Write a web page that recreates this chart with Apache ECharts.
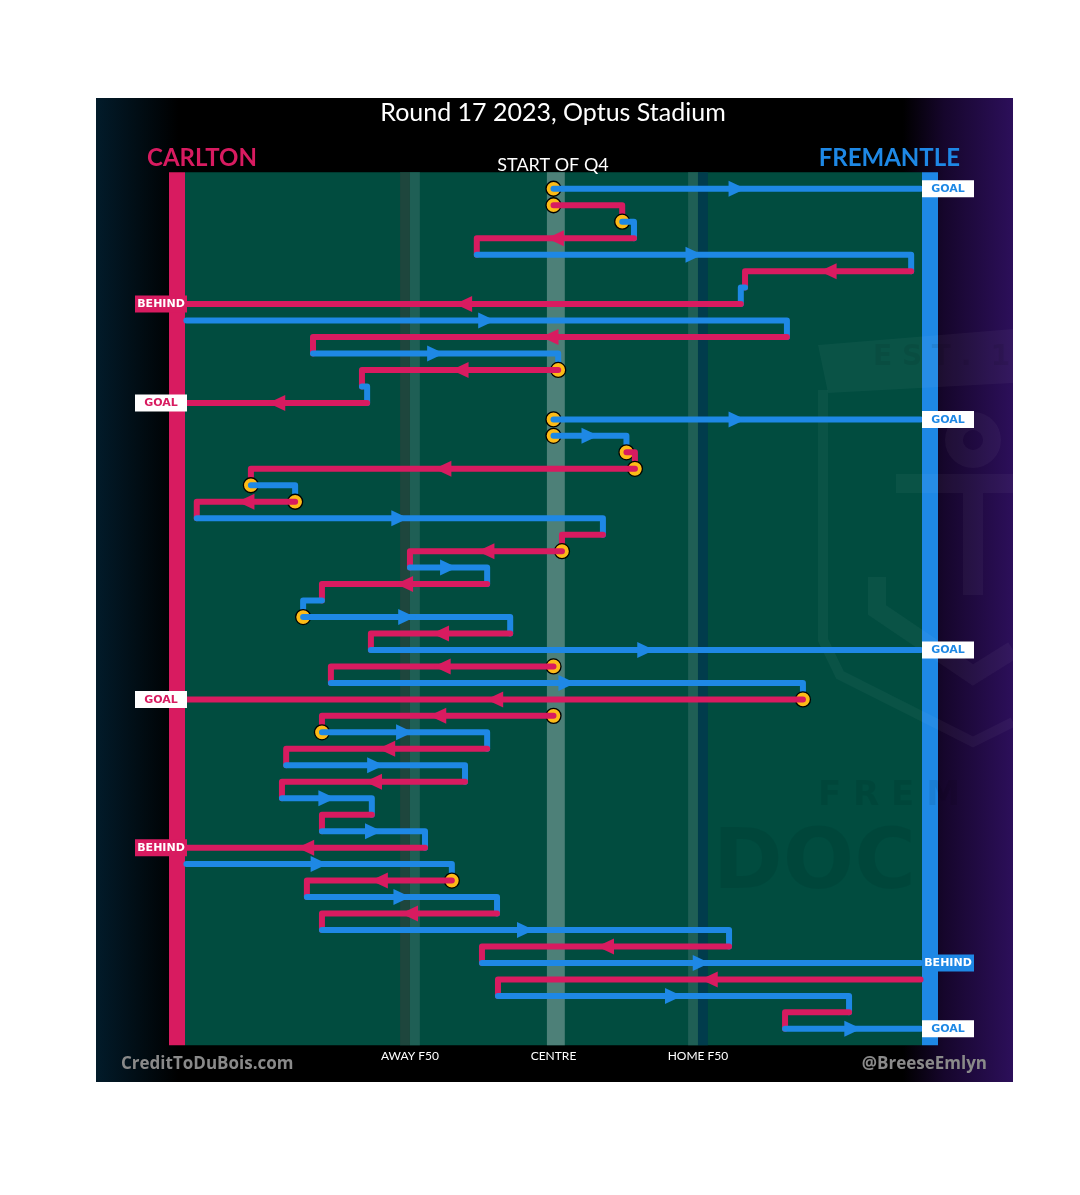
<!DOCTYPE html>
<html><head><meta charset="utf-8">
<script src="https://cdn.jsdelivr.net/npm/echarts@6/dist/echarts.min.js"></script>
<style>html,body{margin:0;padding:0;background:#fff;}#c{width:1080px;height:1195px;}</style>
</head><body><div id="c"></div>
<script>
// ---- DATA (x in ground units: 0 = Carlton goal, 160 = Fremantle goal; row = chain step) ----
const rowTeam = ['F','C','F','C','F','C','F','C','F','C','F','C','F','C','F','F','C','C','F','C','F','C','C','F','C','F','F','C','F','C','F','C','C','F','C','F','C','F','C','F','C','F','C','F','C','F','C','F','C','F','C','F'];
const rowStart = [80,80,94.6,97.1,63.7,156,120.7,119.8,2,129.6,28.9,81,39.3,40.4,80,80,95.5,97.3,15.7,25.1,4.2,90.5,81.8,49.5,65.9,30.8,26.8,70.8,41.2,80,32.7,133,80,30.8,65.9,23.2,61.2,22.3,41.4,30.8,52.7,2,58.4,27.6,68,30.8,117.3,64.8,158,68.2,142.8,129.2];
const rowEnd = [158,94.6,97.1,63.7,156,120.7,119.8,2,129.6,28.9,81,39.3,40.4,2,158,95.5,97.3,15.7,25.1,4.2,90.5,81.8,49.5,65.9,30.8,26.8,70.8,41.2,158,32.7,133,2,30.8,65.9,23.2,61.2,22.3,41.4,30.8,52.7,2,58.4,27.6,68,30.8,117.3,64.8,158,68.2,142.8,129.2,158];
const stoppageRows = [0,1,2,11,14,15,16,17,18,19,22,26,29,31,32,33,42];
const resultRows = [0,7,13,14,28,31,40,47,51];
const resultNames = ['GOAL','BEHIND','GOAL','GOAL','GOAL','GOAL','BEHIND','BEHIND','GOAL'];
const tickValues = [49.5, 80, 110.7];
const tickNames = ['AWAY F50','CENTRE','HOME F50'];
const teamNames = ['CARLTON','FREMANTLE'];

// ---- STYLE ----
const TEAM_COLOR = {C:'#D81B60', F:'#1E88E5'};
const ARROW_MIN = 15;
const N = rowTeam.length;
const chainData = rowTeam.map((t,i)=>[i, rowStart[i], rowEnd[i]]);

function renderField(params, api){
  const top = api.coord([0,-1])[1], bot = api.coord([0,52])[1];
  const band = (a,b,fill) => {
    const xa = api.coord([a,0])[0], xb = api.coord([b,0])[0];
    return {type:'rect', shape:{x:xa, y:top, width:xb-xa, height:bot-top}, style:{fill:fill}};
  };
  return {type:'group', children:[
    band(1.7,158.3,'#014c3f'),
    band(47.4,49.5,'#1e463d'),
    band(49.5,51.6,'#1f5f55'),
    band(78.6,82.4,'#4d8078'),
    band(108.6,110.7,'#1f5f55'),
    band(110.7,112.8,'#013c4c'),
    band(-1.7,1.7,TEAM_COLOR.C),
    band(158.3,161.7,TEAM_COLOR.F)
  ]};
}

function renderChain(params, api){
  const k = params.dataIndex;
  const i = api.value(0), s = api.value(1), e = api.value(2);
  const col = TEAM_COLOR[rowTeam[k]];
  const ri = resultRows.indexOf(k);
  const res = ri >= 0 ? resultNames[ri] : '';
  const p0 = api.coord([s,i]), p1 = api.coord([e,i]);
  const pts = [p0, p1];
  if(!res && k < N-1) pts.push(api.coord([e, i+1]));
  const ch = [];
  if(stoppageRows.indexOf(k) >= 0){
    ch.push({type:'circle', shape:{cx:p0[0], cy:p0[1], r:7.5}, style:{fill:'#FDBB17', stroke:'#000', lineWidth:1.3}});
  }
  ch.push({type:'polyline', shape:{points:pts}, style:{stroke:col, lineWidth:6, lineCap:'round', lineJoin:'round', fill:null}});
  if(Math.abs(e-s) > ARROW_MIN){
    const d = e > s ? 1 : -1;
    const mx = (p0[0]+p1[0])/2, y = p0[1];
    ch.push({type:'polygon', shape:{points:[[mx+d*8.5,y],[mx-d*8.5,y-8],[mx-d*8.5,y+8]]}, style:{fill:col}});
  }
  if(res){
    const left = e < 80;
    const gx = api.coord([left?0:160, i])[0];
    const x0 = left ? gx-42 : gx-8;
    const w = 52, isGoal = res === 'GOAL';
    ch.push({type:'rect', shape:{x:x0, y:p1[1]-8.5, width:w, height:17}, style:{fill:isGoal?'#ffffff':col}});
    ch.push({type:'text', style:{text:res, x:x0+w/2, y:p1[1]+0.5, fill:isGoal?col:'#ffffff', font:'bold 11px "DejaVu Sans"', align:'center', verticalAlign:'middle', textAlign:'center', textVerticalAlign:'middle'}});
  }
  return {type:'group', children:ch};
}

const WM = 'rgba(255,255,255,0.04)', WD = 'rgba(0,0,0,0.07)';
const option = {
  animation:false,
  backgroundColor:'#ffffff',
  grid:{left:177, right:150, top:172.3, height:873, containLabel:false},
  xAxis:{type:'value', min:0, max:160, axisLine:{show:false}, axisTick:{show:false}, splitLine:{show:false},
    axisLabel:{customValues:tickValues, formatter:(v)=>{const j=tickValues.indexOf(v); return j>=0?tickNames[j]:'';}, color:'#ffffff', fontSize:12, fontFamily:'Lato', margin:5}},
  yAxis:{type:'value', min:-1, max:52, inverse:true, show:false},
  graphic:{elements:[
    {type:'rect', z:0, shape:{x:96, y:98, width:917, height:984}, style:{fill:new echarts.graphic.LinearGradient(0,0,1,0,[
      {offset:0, color:'#021b2a'},{offset:0.09, color:'#000000'},{offset:0.88, color:'#000000'},{offset:0.925, color:'#16062c'},{offset:1, color:'#2c0f5a'}])}},
    {type:'text', z:5, style:{text:'Round 17 2023, Optus Stadium', x:553, y:113, fill:'#ffffff', font:'25px Lato', align:'center', verticalAlign:'middle', textAlign:'center', textVerticalAlign:'middle'}},
    {type:'text', z:5, style:{text:teamNames[0], x:147, y:158, fill:TEAM_COLOR.C, font:'bold 24px Lato', align:'left', verticalAlign:'middle', textAlign:'left', textVerticalAlign:'middle'}},
    {type:'text', z:5, style:{text:teamNames[1], x:960, y:158, fill:TEAM_COLOR.F, font:'bold 24px Lato', align:'right', verticalAlign:'middle', textAlign:'right', textVerticalAlign:'middle'}},
    {type:'text', z:5, style:{text:'START OF Q4', x:553, y:165, fill:'#ffffff', font:'18px Lato', align:'center', verticalAlign:'middle', textAlign:'center', textVerticalAlign:'middle'}},
    {type:'text', z:5, style:{text:'CreditToDuBois.com', x:121, y:1064, fill:'#8a8a8a', font:'bold 17px "Open Sans"', align:'left', verticalAlign:'middle', textAlign:'left', textVerticalAlign:'middle'}},
    {type:'text', z:5, style:{text:'@BreeseEmlyn', x:987, y:1064, fill:'#8a8a8a', font:'bold 17px "Open Sans"', align:'right', verticalAlign:'middle', textAlign:'right', textVerticalAlign:'middle'}},
    // faint club watermark
    {type:'polygon', z:2, shape:{points:[[818,345],[1013,329],[1013,383],[828,393]]}, style:{fill:WM}},
    {type:'polyline', z:2, shape:{points:[[823,390],[823,640],[840,675],[973,742],[1013,722]]}, style:{stroke:WM, lineWidth:10, fill:null}},
    {type:'text', z:2, style:{text:'E S T .  1 9', x:873, y:358, fill:WD, font:'bold 28px "DejaVu Sans"', align:'left', verticalAlign:'middle', textAlign:'left', textVerticalAlign:'middle'}},
    {type:'circle', z:2, shape:{cx:973, cy:440, r:19}, style:{fill:null, stroke:WM, lineWidth:18}},
    {type:'rect', z:2, shape:{x:896, y:474, width:117, height:19}, style:{fill:WM}},
    {type:'rect', z:2, shape:{x:963, y:493, width:20, height:102}, style:{fill:WM}},
    {type:'polyline', z:2, shape:{points:[[877,577],[877,610],[973,675],[1013,650]]}, style:{stroke:WM, lineWidth:18, fill:null}},
    {type:'text', z:2, style:{text:'F R E M', x:818, y:796, fill:WD, font:'bold 34px "DejaVu Sans"', align:'left', verticalAlign:'middle', textAlign:'left', textVerticalAlign:'middle'}},
    {type:'text', z:2, style:{text:'DOC', x:713, y:866, fill:WD, font:'bold 84px "DejaVu Sans"', align:'left', verticalAlign:'middle', textAlign:'left', textVerticalAlign:'middle'}},
    // page margin to the right of the chart panel
    {type:'rect', z:20, shape:{x:1013, y:90, width:67, height:1000}, style:{fill:'#ffffff'}}
  ]},
  series:[
    {type:'custom', name:'field', z:1, silent:true, clip:false, data:[[0,0]], renderItem:renderField},
    {type:'custom', name:'chain', z:3, silent:true, clip:false, data:chainData, encode:{x:[1,2], y:0}, renderItem:renderChain}
  ]
};
const chart = echarts.init(document.getElementById('c'), null, {renderer:'canvas', width:1080, height:1195});
chart.setOption(option);
</script>
</body></html>
